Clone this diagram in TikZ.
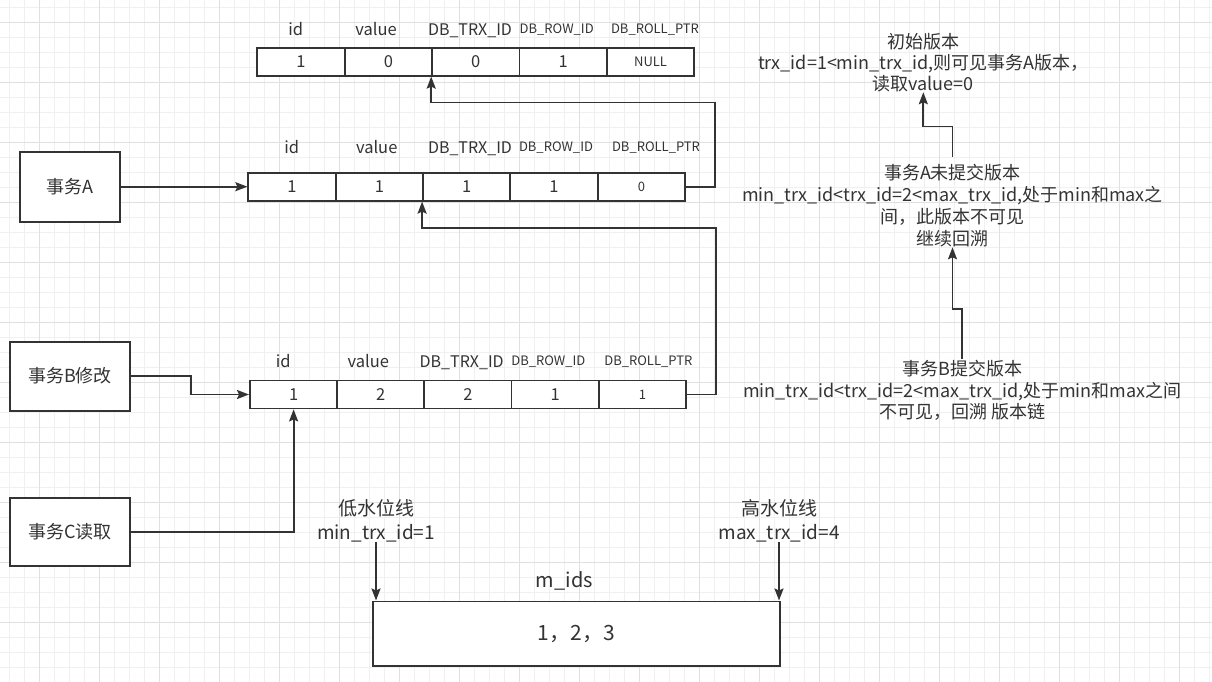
\documentclass[tikz,border=0pt]{standalone}
\usepackage{fontspec}
\setmainfont{Noto Sans CJK SC}
\usetikzlibrary{arrows.meta,calc}
\definecolor{ink}{HTML}{333333}
\definecolor{gminor}{HTML}{F0F0F0}
\definecolor{gmajor}{HTML}{E0E0E0}
\begin{document}
\begin{tikzpicture}[x=1pt,y=-1pt,
  every node/.style={text=ink},
  big/.style={font=\fontsize{16.5}{21}\selectfont, text height=14pt, text depth=2pt},
  trx/.style={font=\fontsize{16}{21}\selectfont, text height=14pt, text depth=2pt},
  mid/.style={font=\fontsize{18}{21}\selectfont, text height=15pt, text depth=2pt},
  small/.style={font=\fontsize{13}{16}\selectfont, text height=11pt, text depth=2pt},
  cellbox/.style={draw=ink, fill=white, line width=1.8pt, minimum width=87.4pt, minimum height=28pt, inner sep=0pt},
  txbox/.style={draw=ink, fill=white, line width=1.8pt, inner sep=0pt, mid},
  hd/.style={inner sep=0pt, big},
  hdt/.style={inner sep=0pt, trx},
  hds/.style={inner sep=0pt, small},
  note/.style={inner sep=0pt, align=center},
  arr/.style={draw=ink, line width=1.8pt, -{Stealth[length=12pt,width=9pt,inset=2pt]}},
  gmin/.style={draw=gminor, line width=1pt},
  gmaj/.style={draw=gmajor, line width=1pt}
]
\useasboundingbox (0,0) rectangle (1212,682);
\fill[white] (0,0) rectangle (1212,682);
% grid
\foreach \i in {0,...,80} {\draw[gmin] ({9.3+15*\i},0) -- ({9.3+15*\i},682);}
\foreach \j in {0,...,45} {\draw[gmin] (0,{7.3+15*\j}) -- (1212,{7.3+15*\j});}
\foreach \i in {0,...,19} {\draw[gmaj] ({39.3+60*\i},0) -- ({39.3+60*\i},682);}
\foreach \j in {0,...,11} {\draw[gmaj] (0,{22.3+60*\j}) -- (1212,{22.3+60*\j});}

% left boxes
\node[txbox, minimum width=100pt, minimum height=70pt] (A) at (70,186.7) {事务A};
\node[txbox, minimum width=120pt, minimum height=69pt] (B) at (70,376.2) {事务B修改};
\node[txbox, minimum width=120pt, minimum height=68pt] (C) at (70,531.8) {事务C读取};

% row 0
\node[hd]  (h0a) at (295.7,30) {id};
\node[hd]  (h0b) at (376,30) {value};
\node[hdt] (h0c) at (470,30) {DB\_TRX\_ID};
\node[hds] (h0d) at (556.7,29.3) {DB\_ROW\_ID};
\node[hds] (h0e) at (655,29.3) {DB\_ROLL\_PTR};
\node[cellbox,big]   (r0c1) at (301,61.7) {1};
\node[cellbox,big]   (r0c2) at (388.4,61.7) {0};
\node[cellbox,big]   (r0c3) at (475.8,61.7) {0};
\node[cellbox,big]   (r0c4) at (563.2,61.7) {1};
\node[cellbox,small] (r0c5) at (650.6,61.7) {NULL};

% row 1
\node[hd]  (h1a) at (291.7,147.3) {id};
\node[hd]  (h1b) at (376.7,147.3) {value};
\node[hdt] (h1c) at (470,147.3) {DB\_TRX\_ID};
\node[hds] (h1d) at (556,147.3) {DB\_ROW\_ID};
\node[hds] (h1e) at (656,147.3) {DB\_ROLL\_PTR};
\node[cellbox,big]   (r1c1) at (292.0,186.7) {1};
\node[cellbox,big]   (r1c2) at (379.35,186.7) {1};
\node[cellbox,big]   (r1c3) at (466.7,186.7) {1};
\node[cellbox,big]   (r1c4) at (554.05,186.7) {1};
\node[cellbox,small] (r1c5) at (641.4,186.7) {0};

% row 2
\node[hd]  (h2a) at (283.3,361) {id};
\node[hd]  (h2b) at (368.3,361) {value};
\node[hdt] (h2c) at (461.7,361) {DB\_TRX\_ID};
\node[hds] (h2d) at (548.3,361) {DB\_ROW\_ID};
\node[hds] (h2e) at (648.3,361) {DB\_ROLL\_PTR};
\node[cellbox,big]   (r2c1) at (293.6,394.5) {1};
\node[cellbox,big]   (r2c2) at (380.8,394.5) {2};
\node[cellbox,big]   (r2c3) at (468.0,394.5) {2};
\node[cellbox,big]   (r2c4) at (555.2,394.5) {1};
\node[cellbox,small] (r2c5) at (642.4,394.5) {1};

% right notes
\node[note, font=\fontsize{18}{20.8}\selectfont] (t0) at (923.3,62.9)
  {初始版本\\trx\_id=1<min\_trx\_id,则可见事务A版本，\\读取value=0};
\node[note, font=\fontsize{18}{22.2}\selectfont] (tA) at (952.5,205.4)
  {事务A未提交版本\\min\_trx\_id<trx\_id=2<max\_trx\_id,处于min和max之\\间，此版本不可见\\继续回溯};
\node[note, font=\fontsize{18}{21.7}\selectfont] (tB) at (962.3,390.4)
  {事务B提交版本\\min\_trx\_id<trx\_id=2<max\_trx\_id,处于min和max之间\\不可见，回溯 版本链};

% bottom
\node[note, font=\fontsize{19}{24}\selectfont] (low) at (376,520.4) {低水位线\\min\_trx\_id=1};
\node[note, font=\fontsize{19}{24}\selectfont] (high) at (779,520.4) {高水位线\\max\_trx\_id=4};
\node[hd, font=\fontsize{20}{24}\selectfont] (mlab) at (564.3,581) {m\_ids};
\node[txbox, font=\fontsize{21}{24}\selectfont, minimum width=406.4pt, minimum height=64.6pt] (mids) at (576.4,633.7) {1，2，3};

% connectors
\draw[arr] (A.east) -- (r1c1.west);
\draw[arr] (B.east) -- ++(60,0) |- (r2c1.west);
\draw[arr] (C.east) -| (r2c1.south);
\draw[arr] (r1c5.east) -- ++(29,0) |- ($(r0c3.south west)+(0,26)$) -- (r0c3.south west);
\draw[arr] (r2c5.east) -- ++(29,0) |- ($(r1c3.south west)+(0,26)$) -- (r1c3.south west);
\draw[arr] ($(tA.north)+(0,-7)$) -- ++(0,-30) -| (t0.south);
\draw[arr] ($(tB.north)+(0,-1)$) -- ++(0,-50) -| (tA.south);
\draw[arr] (low.south) -- (low.south |- mids.north);
\draw[arr] (high.south) -- (high.south |- mids.north);
\end{tikzpicture}
\end{document}
